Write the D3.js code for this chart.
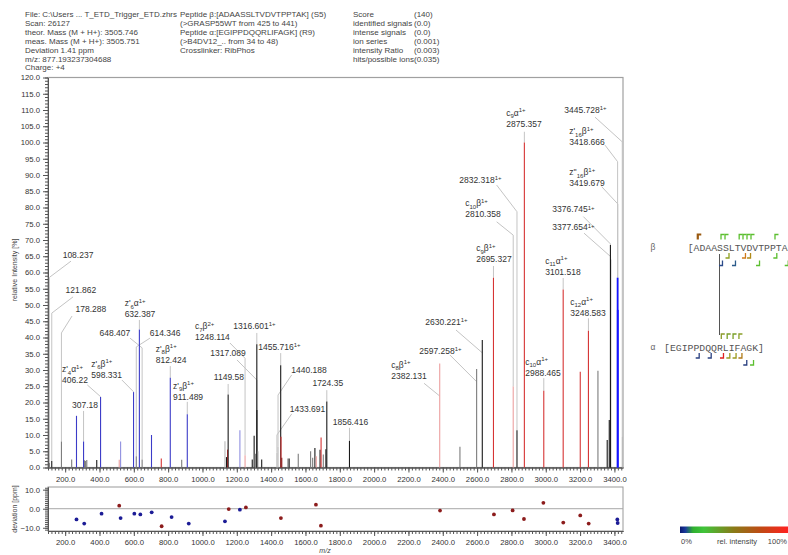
<!DOCTYPE html>
<html>
<head>
<meta charset="utf-8">
<script src="https://cdn.jsdelivr.net/npm/d3@7"></script>
<style>
  body { margin: 0; background: #fff; }
  svg { display: block; font-family: "Liberation Sans", Arial, sans-serif; }
</style>
</head>
<body>
<div id="chart"></div>
<script>
// ---- data ----
// [m/z, relative intensity %, kind]
const peaks = [
  [108.237, 1.5, "g"], [121.862, 2.0, "k"], [178.288, 8.0, "g"], [238, 2.5, "g"],
  [266, 15.9, "b"], [307.18, 8.0, "b"], [313, 2.2, "g"], [319, 2.0, "g"], [326, 2.3, "g"],
  [384, 2.3, "k"], [406.22, 21.7, "b"], [515, 2.4, "p"], [523, 8.0, "lb"],
  [598.331, 23.2, "b"], [614.346, 3.5, "g"], [632.387, 42.5, "b"], [648.407, 2.5, "g"],
  [703, 10.0, "b"], [760, 2.8, "r"], [812.424, 27.6, "b"], [879, 2.4, "g"], [911.489, 16.4, "b"],
  [1131, 8.1, "lg"], [1140, 3.2, "k"], [1146, 5.5, "r"], [1149.58, 22.5, "k"],
  [1218, 11.5, "lb"], [1248.114, 3.8, "p"], [1290, 2.5, "k"], [1301, 9.8, "k"], [1308, 4.2, "g"],
  [1316.601, 37.9, "k"], [1317.089, 17.7, "k"], [1322, 5.0, "g"], [1345, 2.5, "k"],
  [1433.691, 4.5, "lg"], [1440.188, 6.4, "lg"], [1455.716, 31.5, "k"], [1457.5, 9.5, "r"],
  [1462, 3.0, "dr"], [1498, 2.8, "g"], [1505, 2.8, "k"], [1558, 4.2, "g"], [1630, 5.0, "g"],
  [1642, 3.0, "g"], [1655, 6.0, "k"], [1663, 3.5, "p"], [1685, 5.5, "k"], [1691, 9.2, "r"],
  [1704, 4.0, "g"], [1719, 5.6, "k"], [1724.35, 20.3, "k"], [1856.416, 8.2, "k"],
  [2382.131, 32.0, "p"], [2500, 6.4, "g"], [2597.258, 30.3, "g"], [2630.221, 39.2, "k"],
  [2695.327, 58.4, "r"], [2810.358, 24.9, "p"], [2832.318, 11.5, "k"], [2875.357, 100, "r"],
  [2988.465, 23.6, "r"], [3101.518, 54.8, "r"], [3201, 29.5, "r"], [3248.583, 42.1, "r"],
  [3304, 29.8, "g"], [3358, 8.5, "k"], [3370, 14.6, "k"], [3376.745, 68.5, "k"],
  [3377.654, 64.0, "k"], [3418.666, 58.4, "B"], [3419.679, 48.5, "B"], [3445.728, 9.5, "lg"]
];

// annotated peaks: ion name parts, mass text, charge sup, label centre (m/z, %),
// leader start (m/z, %), leader knee height (%)
const labels = [
  { mz: 108.237, text: "108.237", lx: 275, ly: 65.4, sx: 234, sy: 63.5, ky: 58.5 },
  { mz: 121.862, text: "121.862", lx: 292, ly: 54.6, sx: 246, sy: 52.5, ky: 47.5 },
  { mz: 178.288, text: "178.288", lx: 350, ly: 48.7, sx: 240, sy: 46.6, ky: 41.4 },
  { mz: 406.22, ion: ["z'", "4", "α", "1+"], text: "406.22", lx: 257, ly: 26.9, sx: 329, sy: 25.4, ky: 21.8 },
  { mz: 598.331, ion: ["z'", "6", "β", "1+"], text: "598.331", lx: 442, ly: 28.5, sx: 531, sy: 26.9, ky: 23.3 },
  { mz: 307.18, text: "307.18", lx: 316, ly: 19.2, sx: 307.18, sy: 17.4, ky: 17.4 },
  { mz: 632.387, ion: ["z'", "6", "α", "1+"], text: "632.387", lx: 636, ly: 47.2, sx: 632.387, sy: 45.4, ky: 45.4 },
  { mz: 648.407, text: "648.407", lx: 490, ly: 41.4, sx: 578, sy: 39.8, ky: 36.8 },
  { mz: 614.346, text: "614.346", lx: 782, ly: 41.4, sx: 694, sy: 39.8, ky: 37.1 },
  { mz: 812.424, ion: ["z'", "8", "β", "1+"], text: "812.424", lx: 817, ly: 33.1, sx: 812.424, sy: 31.2, ky: 31.2 },
  { mz: 911.489, ion: ["z'", "9", "β", "1+"], text: "911.489", lx: 916, ly: 21.8, sx: 911.489, sy: 20.2, ky: 20.2 },
  { mz: 1248.114, ion: ["c", "7", "β", "2+"], text: "1248.114", lx: 1058, ly: 40.1, sx: 1160, sy: 38.3, ky: 33.6 },
  { mz: 1317.089, text: "1317.089", lx: 1149, ly: 35.1, sx: 1201, sy: 33.1, ky: 26.9 },
  { mz: 1316.601, text: "1316.601", sup: "1+", lx: 1283, ly: 43.5, sx: 1316.601, sy: 41.4, ky: 41.4 },
  { mz: 1455.716, text: "1455.716", sup: "1+", lx: 1428, ly: 37.2, sx: 1455.716, sy: 35.2, ky: 35.2 },
  { mz: 1149.58, text: "1149.58", lx: 1154, ly: 27.9, sx: 1149.58, sy: 25.7, ky: 25.7 },
  { mz: 1440.188, text: "1440.188", lx: 1621, ly: 30.0, sx: 1520, sy: 28.5, ky: 22.3 },
  { mz: 1433.691, text: "1433.691", lx: 1612, ly: 17.9, sx: 1520, sy: 16.5, ky: 10.0 },
  { mz: 1724.35, text: "1724.35", lx: 1730, ly: 25.9, sx: 1724.35, sy: 23.8, ky: 23.8 },
  { mz: 1856.416, text: "1856.416", lx: 1862, ly: 13.9, sx: 1856.416, sy: 12.2, ky: 12.2 },
  { mz: 2382.131, ion: ["c", "8", "β", "1+"], text: "2382.131", lx: 2203, ly: 28.2, sx: 2291, sy: 25.9, ky: 22.0 },
  { mz: 2597.258, text: "2597.258", sup: "1+", lx: 2366, ly: 35.9, sx: 2442, sy: 34.6, ky: 26.4 },
  { mz: 2630.221, text: "2630.221", sup: "1+", lx: 2401, ly: 44.9, sx: 2477, sy: 42.3, ky: 35.3 },
  { mz: 2988.465, ion: ["c", "10", "α", "1+"], text: "2988.465", lx: 2984, ly: 29.2, sx: 2988.465, sy: 27.5, ky: 27.5 },
  { mz: 2875.357, ion: ["c", "9", "α", "1+"], text: "2875.357", lx: 2873, ly: 105.7, sx: 2875.357, sy: 103.3, ky: 103.3 },
  { mz: 2832.318, text: "2832.318", sup: "1+", lx: 2599, ly: 88.5, sx: 2714, sy: 86.9, ky: 78.7 },
  { mz: 2810.358, ion: ["c", "10", "β", "1+"], text: "2810.358", lx: 2634, ly: 77.9, sx: 2714, sy: 75.6, ky: 71.5 },
  { mz: 2695.327, ion: ["c", "9", "β", "1+"], text: "2695.327", lx: 2698, ly: 64.1, sx: 2695.327, sy: 62.0, ky: 62.0 },
  { mz: 3445.728, text: "3445.728", sup: "1+", lx: 3211, ly: 110.0, sx: 3287, sy: 107.8, ky: 100.2 },
  { mz: 3418.666, ion: ["z'", "16", "β", "1+"], text: "3418.666", lx: 3240, ly: 100.1, sx: 3345, sy: 99.2, ky: 94.1 },
  { mz: 3419.679, ion: ["z''", "16", "β", "1+"], text: "3419.679", lx: 3240, ly: 87.4, sx: 3326, sy: 86.4, ky: 81.1 },
  { mz: 3376.745, text: "3376.745", sup: "1+", lx: 3141, ly: 79.4, sx: 3219, sy: 77.2, ky: 68.8 },
  { mz: 3377.654, text: "3377.654", sup: "1+", lx: 3141, ly: 73.9, sx: 3223, sy: 72.1, ky: 64.9 },
  { mz: 3101.518, ion: ["c", "11", "α", "1+"], text: "3101.518", lx: 3100, ly: 60.2, sx: 3101.518, sy: 58.3, ky: 58.3 },
  { mz: 3248.583, ion: ["c", "12", "α", "1+"], text: "3248.583", lx: 3246, ly: 47.6, sx: 3248.583, sy: 45.9, ky: 45.9 }
];

// [m/z, deviation ppm, kind]
const deviations = [
  [266, -5.6, "b"], [311, -7.8, "b"], [412, -2.6, "b"], [515, 1.6, "r"], [523, -4.9, "b"],
  [603, -2.6, "b"], [638, -3.0, "b"], [704, -1.9, "b"], [762, -9.2, "r"], [820, -4.4, "b"],
  [920, -7.8, "b"], [1131, -6.6, "b"], [1153, -0.2, "r"], [1218, -0.5, "b"], [1253, 0.7, "r"],
  [1457, -4.9, "r"], [1661, 2.1, "r"], [1690, -8.9, "r"], [2384, -1.0, "r"], [2698, -3.0, "r"],
  [2807, -0.9, "r"], [2873, -5.4, "r"], [2986, 3.1, "r"], [3102, -7.3, "r"], [3201, -3.5, "r"],
  [3250, -7.8, "r"], [3417, -5.6, "b"], [3419, -7.5, "b"]
];

const headerCol1 = ["File: C:\\Users ... T_ETD_Trigger_ETD.zhrs", "Scan: 26127",
  "theor. Mass (M + H+): 3505.746", "meas. Mass (M + H+): 3505.751", "Deviation 1.41 ppm",
  "m/z: 877.193237304688", "Charge: +4"];
const headerCol2 = ["Peptide β:[ADAASSLTVDVTPPTAK] (S5)", "(>GRASP55WT from 425 to 441)",
  "Peptide α:[EGIPPDQQRLIFAGK] (R9)", "(>B4DV12_.. from 34 to 48)", "Crosslinker: RibPhos"];
const scoreNames = ["Score", "identified signals", "intense signals", "ion series", "intensity Ratio", "hits/possible ions"];
const scoreValues = ["(140)", "(0.0)", "(0.0)", "(0.001)", "(0.003)", "(0.035)"];

const betaSeq = "[ADAASSLTVDVTPPTAK]";
const alphaSeq = "[EGIPPDQQRLIFAGK]";
// fragment markers: position in character cells from sequence start, colour
const betaTop = [[1.97, "#9a5a10", true], [5.92, "#5cbf30"], [6.6, "#5cbf30"], [9.01, "#5cbf30"],
  [9.66, "#5cbf30"], [10.34, "#5cbf30"], [11.02, "#5cbf30"], [15.1, "#5cbf30"]];
const betaBottom1 = [[6.77, "#8fa020"], [9.57, "#d07a18"], [10.43, "#b08a18"], [14.9, "#5cbf30"]];
const betaBottom2 = [[5.66, "#2a4a8a"], [7.87, "#2a5a8a"], [11.96, "#5cbf30"], [16.84, "#5cbf30"]];
const alphaTop = [[10.0, "#8a9a28"], [11.0, "#7aa028"], [12.0, "#7aa028"], [13.0, "#8aa028"]];
const alphaBottom1 = [[5.73, "#2a4080"], [7.77, "#2a4080"], [9.86, "#e02020"], [10.94, "#9a9a20"],
  [12.0, "#9a9a20"], [13.0, "#b07a18"]];
const alphaBottom2 = [[13.82, "#2a4080"], [14.97, "#5cbf30"]];

const gradientStops = [[0, "#0a1870"], [0.05, "#1a3a9a"], [0.12, "#30b030"], [0.22, "#40c43a"],
  [0.5, "#8a7a18"], [0.75, "#c04a14"], [1, "#ff2020"]];

// ---- drawing ----
const width = 788, height = 555;
const kindColor = { k: "#1a1a1a", g: "#7c7c7c", lg: "#b8b8b8", b: "#3c3cc8", lb: "#9090e0",
  B: "#1414ff", r: "#d63434", p: "#eca0a0", dr: "#8a1a1a" };

const svg = d3.select("#chart").append("svg")
  .attr("width", width).attr("height", height);

const x = d3.scaleLinear().domain([100, 3450]).range([48, 623]);
const y = d3.scaleLinear().domain([0, 120]).range([467.5, 77.5]);
const yDev = d3.scaleLinear().domain([-11.7, 11.4]).range([531, 487]);

// header
const header = svg.append("g").style("fill", "#444").style("font-size", "8px");
function textColumn(lines, x0) {
  header.append("g")
    .selectAll(null).data(lines).join("text")
    .attr("x", x0).attr("y", (d, i) => 17 + i * 8.9).text(d => d);
}
textColumn(headerCol1, 25);
textColumn(headerCol2, 180);
textColumn(scoreNames, 353);
textColumn(scoreValues, 414);

// main frame
svg.append("rect").attr("x", 48).attr("y", 77.5).attr("width", 575).attr("height", 390)
  .attr("fill", "none").attr("stroke", "#a0a0a0").attr("stroke-width", 1.2);

function styleAxis(g) {
  g.select(".domain").attr("stroke", "#555");
  g.selectAll(".tick line").attr("stroke", "#555");
  g.selectAll("text").style("font-size", "7.7px").style("fill", "#333")
    .style("font-family", "Liberation Sans, Arial, sans-serif");
}

// main x axis
svg.append("g").attr("transform", `translate(0,${y(0)})`)
  .call(d3.axisBottom(x).tickValues(d3.range(100, 3451, 20)).tickSize(3).tickSizeOuter(0).tickFormat(""))
  .call(styleAxis);
svg.append("g").attr("transform", `translate(0,${y(0)})`)
  .call(d3.axisBottom(x).tickValues(d3.range(200, 3401, 200)).tickSize(5).tickSizeOuter(0)
    .tickPadding(4).tickFormat(d3.format(".1f")))
  .call(styleAxis);

// main y axis
svg.append("g").attr("transform", `translate(${x(100)},0)`)
  .call(d3.axisLeft(y).tickValues(d3.range(0, 121, 1)).tickSize(3).tickSizeOuter(0).tickFormat(""))
  .call(styleAxis);
svg.append("g").attr("transform", `translate(${x(100)},0)`)
  .call(d3.axisLeft(y).tickValues(d3.range(0, 121, 5)).tickSize(5).tickSizeOuter(0)
    .tickFormat(d3.format(".1f")))
  .call(styleAxis);

svg.append("text").attr("transform", "translate(17,270) rotate(-90)")
  .attr("text-anchor", "middle").style("font-size", "7px").style("fill", "#444")
  .text("relative Intensity [%]");

// leader lines
svg.append("g").selectAll("polyline").data(labels).join("polyline")
  .attr("fill", "none").attr("stroke", "#c4c4c4").attr("stroke-width", 1)
  .attr("points", d => {
    const pk = peaks.find(p => p[0] === d.mz);
    const pts = [[x(d.sx), y(d.sy)], [x(d.mz), y(d.ky)]];
    if (d.ky > pk[1]) pts.push([x(d.mz), y(pk[1])]);
    return pts.map(p => p.join(",")).join(" ");
  });

// peaks
svg.append("g").selectAll("line").data(peaks).join("line")
  .attr("x1", d => x(d[0])).attr("x2", d => x(d[0]))
  .attr("y1", y(0)).attr("y2", d => y(d[1]))
  .attr("stroke", d => kindColor[d[2]])
  .attr("stroke-width", d => d[2] === "B" ? 1.8 : 1.1);

// peak labels
const lab = svg.append("g").style("font-size", "8.5px").style("fill", "#333");
labels.forEach(d => {
  const cx = x(d.lx), cy = y(d.ly);
  const t = lab.append("text").attr("y", cy).attr("dy", "0.35em").text(d.text);
  const w = t.node().getComputedTextLength();
  t.attr("x", cx - w / 2);
  if (d.sup) {
    t.append("tspan").attr("dy", "-0.45em").style("font-size", "6px").text(d.sup);
  }
  if (d.ion) {
    const n = lab.append("text").attr("x", cx - w / 2).attr("y", cy - 11).attr("dy", "0.35em");
    n.append("tspan").text(d.ion[0]);
    n.append("tspan").attr("dy", 2.5).style("font-size", "6px").text(d.ion[1]);
    n.append("tspan").attr("dy", -2.5).text(d.ion[2]);
    n.append("tspan").attr("dy", -3.5).style("font-size", "6px").text(d.ion[3]);
  }
});

// deviation panel
svg.append("rect").attr("x", 48).attr("y", 487).attr("width", 575).attr("height", 44)
  .attr("fill", "none").attr("stroke", "#999").attr("stroke-width", 1);
svg.append("line").attr("x1", 48).attr("x2", 623).attr("y1", yDev(0)).attr("y2", yDev(0))
  .attr("stroke", "#a8a8a8");
svg.append("g").attr("transform", `translate(0,531)`)
  .call(d3.axisBottom(x).tickValues(d3.range(100, 3451, 20)).tickSize(3).tickSizeOuter(0).tickFormat(""))
  .call(styleAxis);
svg.append("g").attr("transform", `translate(0,531)`)
  .call(d3.axisBottom(x).tickValues(d3.range(200, 3401, 200)).tickSize(5).tickSizeOuter(0)
    .tickPadding(4).tickFormat(d3.format(".1f")))
  .call(styleAxis);
svg.append("g").attr("transform", `translate(48,0)`)
  .call(d3.axisLeft(yDev).tickValues(d3.range(-11, 12, 1)).tickSize(3).tickSizeOuter(0).tickFormat(""))
  .call(styleAxis);
svg.append("g").attr("transform", `translate(48,0)`)
  .call(d3.axisLeft(yDev).tickValues([-10, 0, 10]).tickSize(5).tickSizeOuter(0).tickFormat(d3.format(".1f")))
  .call(styleAxis);
svg.append("text").attr("transform", "translate(17,509) rotate(-90)")
  .attr("text-anchor", "middle").style("font-size", "7px").style("fill", "#444")
  .text("deviation [ppm]");
svg.append("text").attr("x", 325).attr("y", 553).attr("text-anchor", "middle")
  .style("font-size", "7px").style("font-style", "italic").style("fill", "#444").text("m/z");

svg.append("g").selectAll("circle").data(deviations).join("circle")
  .attr("cx", d => x(d[0])).attr("cy", d => yDev(d[1])).attr("r", 1.9)
  .attr("fill", d => d[2] === "b" ? "#1c1c96" : "#8c1c1c");

// sequence diagram
const charW = 5.88;
const seq = svg.append("g").style("font-family", "Liberation Mono, monospace").style("font-size", "9.8px")
  .style("fill", "#555");
const betaX = 687.7, alphaX = 664;
seq.append("text").attr("x", betaX).attr("y", 250.5).text(betaSeq);
seq.append("text").attr("x", alphaX).attr("y", 351).text(alphaSeq);
svg.append("text").attr("x", 653).attr("y", 250).attr("text-anchor", "middle")
  .style("font-size", "8.5px").style("fill", "#666").text("β");
svg.append("text").attr("x", 653).attr("y", 350).attr("text-anchor", "middle")
  .style("font-size", "8.5px").style("fill", "#666").text("α");
svg.append("line").attr("x1", 719.5).attr("x2", 719.5).attr("y1", 254).attr("y2", 335)
  .attr("stroke", "#555").attr("stroke-width", 1);

function markers(list, x0, top, up) {
  svg.append("g").selectAll("path").data(list).join("path")
    .attr("fill", "none")
    .attr("stroke", d => d[1])
    .attr("stroke-width", d => d[2] ? 2.2 : 1.3)
    .attr("d", d => {
      const cx = x0 + d[0] * charW;
      return up
        ? `M${cx - 1.5},${top + 5}V${top}H${cx + 2}`
        : `M${cx + 1.5},${top}V${top + 5}H${cx - 2}`;
    });
}
markers(betaTop, betaX, 234.5, true);
markers(betaBottom1, betaX, 253, false);
markers(betaBottom2, betaX, 260.5, false);
markers(alphaTop, alphaX, 334, true);
markers(alphaBottom1, alphaX, 353, false);
markers(alphaBottom2, alphaX, 360, false);

// colour bar
const grad = svg.append("defs").append("linearGradient").attr("id", "relint");
grad.selectAll("stop").data(gradientStops).join("stop")
  .attr("offset", d => d[0]).attr("stop-color", d => d[1]);
svg.append("rect").attr("x", 680).attr("y", 526.5).attr("width", 108).attr("height", 6.5)
  .attr("fill", "url(#relint)");
const cb = svg.append("g").style("font-size", "7.5px").style("fill", "#444");
cb.append("text").attr("x", 681).attr("y", 543.5).text("0%");
cb.append("text").attr("x", 737).attr("y", 543.5).attr("text-anchor", "middle").text("rel. intensity");
cb.append("text").attr("x", 787).attr("y", 543.5).attr("text-anchor", "end").text("100%");
</script>
</body>
</html>
